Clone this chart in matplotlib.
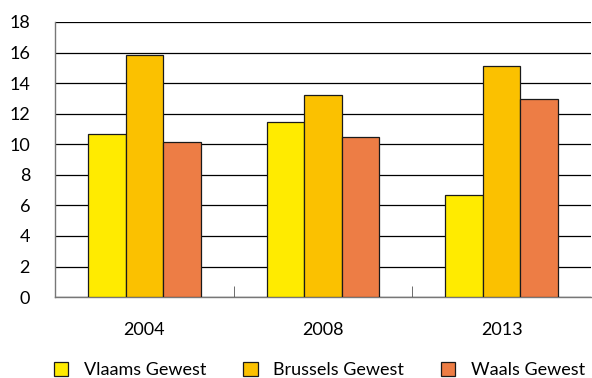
import numpy as np
import matplotlib.pyplot as plt

plt.rcParams['font.family'] = ['Lato', 'DejaVu Sans']

years = ['2004', '2008', '2013']
series = ['Vlaams Gewest', 'Brussels Gewest', 'Waals Gewest']
vlaams = [10.7, 11.45, 6.7]
brussels = [15.85, 13.2, 15.1]
waals = [10.15, 10.5, 12.95]
colors = ['#FFEB00', '#FBC100', '#ED7D45']

fig = plt.figure(figsize=(5.92, 3.78), dpi=100)
ax = fig.add_axes([0.093, 0.214, 0.905, 0.728])

x = np.arange(len(years))
w = 0.21
for i, (vals, c, lab) in enumerate(zip([vlaams, brussels, waals], colors, series)):
    ax.bar(x + (i - 1) * w, vals, w, color=c, edgecolor='#1a1a1a', linewidth=0.9,
           label=lab, zorder=3)

ax.set_ylim(0, 18)
ax.set_xlim(-0.5, 2.5)
ax.set_yticks(range(0, 19, 2))
ax.yaxis.grid(True, color='black', linewidth=0.9, zorder=0)
ax.set_axisbelow(True)
ax.tick_params(axis='y', length=0, labelsize=13, pad=18)
ax.set_xticks(x)
ax.set_xticklabels(years)
ax.tick_params(axis='x', length=0, labelsize=13, pad=18)
ax.set_xticks([0.5, 1.5], minor=True)
ax.tick_params(axis='x', which='minor', direction='in', length=8, color='#555555')

for s in ['top', 'right']:
    ax.spines[s].set_visible(False)
for s in ['left', 'bottom']:
    ax.spines[s].set_color('#777777')
    ax.spines[s].set_linewidth(1)

fig.legend(loc='center', bbox_to_anchor=(0.54, 0.021), ncol=3, frameon=False,
           fontsize=13, handlelength=0.78, handleheight=0.78, handletextpad=0.87,
           columnspacing=2.05, borderpad=0)

fig.savefig('out.png', dpi=100)
